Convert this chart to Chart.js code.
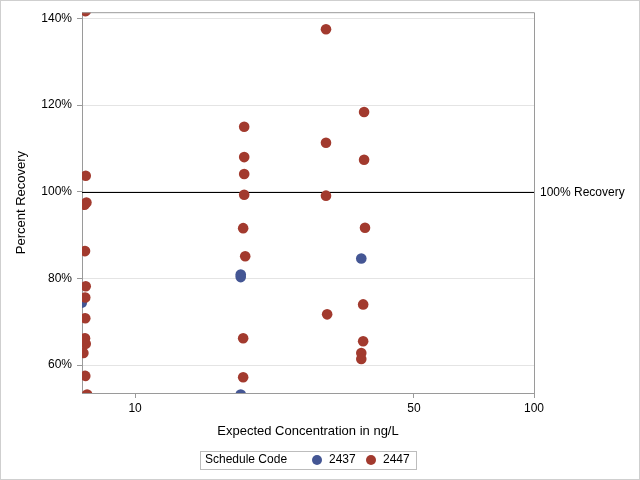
<!DOCTYPE html>
<html>
<head>
<meta charset="utf-8">
<script src="https://cdn.jsdelivr.net/npm/chart.js@4.4.0/dist/chart.umd.min.js"></script>
<style>
  html, body { margin: 0; padding: 0; background: #fff; }
</style>
</head>
<body>
<canvas id="chart" width="640" height="480"></canvas>
<script>
// values
var xTicks = [10, 50, 100];
var yTicks = [60, 80, 100, 120, 140];
var seriesNames = ['2437', '2447'];
var seriesColors = ['#445694', '#A23A2E'];

var conc2437 = [7.35, 18.4, 18.4, 18.4, 36.9];
var rec2437  = [74.4, 80.9, 80.3, 53.2, 84.6];

var conc2447 = [7.52, 7.52, 7.55, 7.47, 7.49, 7.52, 7.50, 7.50, 7.49, 7.52, 7.42, 7.50, 7.58,
                18.77, 18.77, 18.77, 18.77, 18.66, 18.88, 18.66, 18.66,
                30.1, 30.1, 30.1, 30.3,
                37.5, 37.5, 37.7, 37.3, 37.3, 36.9, 36.9];
var rec2447  = [141.7, 103.7, 97.5, 97.0, 86.3, 78.2, 75.6, 70.8, 66.2, 64.9, 62.8, 57.5, 53.2,
                115.0, 108.0, 104.1, 99.3, 91.6, 85.1, 66.2, 57.2,
                137.5, 111.3, 99.1, 71.7,
                118.4, 107.4, 91.7, 74.0, 65.5, 62.8, 61.4];

var refValue = 100;
var refLabel = '100% Recovery';
var xTitle = 'Expected Concentration in ng/L';
var yTitle = 'Percent Recovery';
var legendTitle = 'Schedule Code';

Chart.defaults.font.family = '"Liberation Sans", Arial, sans-serif';
Chart.defaults.font.size = 12;
Chart.defaults.color = '#000';

function toPoints(xs, ys) {
    return xs.map(function (x, i) { return { x: x, y: ys[i] }; });
}

var axisGray = '#9a9a9a';

// frame, reference line, custom inline legend
var decorPlugin = {
    id: 'decor',
    beforeDraw: function (chart) {
        var ctx = chart.ctx;
        ctx.save();
        ctx.fillStyle = '#fff';
        ctx.fillRect(0, 0, chart.width, chart.height);
        ctx.restore();
    },
    beforeDatasetsDraw: function (chart) {
        var ctx = chart.ctx, a = chart.chartArea;
        var y = Math.round(chart.scales.y.getPixelForValue(refValue)) + 0.5;
        ctx.save();
        ctx.strokeStyle = '#000';
        ctx.lineWidth = 1;
        ctx.beginPath();
        ctx.moveTo(a.left, y);
        ctx.lineTo(a.right, y);
        ctx.stroke();
        ctx.font = '12px "Liberation Sans", Arial, sans-serif';
        ctx.fillStyle = '#000';
        ctx.textBaseline = 'middle';
        ctx.fillText(refLabel, a.right + 6, y);
        ctx.restore();
    },
    afterDraw: function (chart) {
        var ctx = chart.ctx, a = chart.chartArea;
        ctx.save();
        // top and right frame
        ctx.strokeStyle = axisGray;
        ctx.lineWidth = 1;
        ctx.beginPath();
        ctx.moveTo(a.left, a.top + 0.5);
        ctx.lineTo(a.right + 0.5, a.top + 0.5);
        ctx.lineTo(a.right + 0.5, a.bottom);
        ctx.stroke();
        // outer border
        ctx.strokeStyle = '#cfcfcf';
        ctx.strokeRect(0.5, 0.5, chart.width - 1, chart.height - 1);
        // legend
        var lx = 200, ly = 451, lw = 216, lh = 18, cy = ly + lh / 2;
        ctx.strokeStyle = '#bdbdbd';
        ctx.strokeRect(lx + 0.5, ly + 0.5, lw, lh);
        ctx.font = '12px "Liberation Sans", Arial, sans-serif';
        ctx.fillStyle = '#000';
        ctx.textBaseline = 'middle';
        ctx.fillText(legendTitle, lx + 5, cy);
        var items = [{ cx: 317, tx: 329 }, { cx: 371, tx: 383 }];
        items.forEach(function (it, i) {
            ctx.fillStyle = seriesColors[i];
            ctx.beginPath();
            ctx.arc(it.cx, cy, 5, 0, Math.PI * 2);
            ctx.fill();
            ctx.fillStyle = '#000';
            ctx.fillText(seriesNames[i], it.tx, cy);
        });
        ctx.restore();
    }
};

new Chart(document.getElementById('chart'), {
    type: 'scatter',
    data: {
        datasets: [
            { label: seriesNames[0], data: toPoints(conc2437, rec2437), backgroundColor: seriesColors[0],
              pointRadius: 5.3, borderWidth: 0, order: 1, clip: 0 },
            { label: seriesNames[1], data: toPoints(conc2447, rec2447), backgroundColor: seriesColors[1],
              pointRadius: 5.3, borderWidth: 0, order: 0, clip: 0 }
        ]
    },
    options: {
        responsive: false,
        devicePixelRatio: 1,
        animation: false,
        events: [],
        layout: { padding: { left: 0, right: 106, top: 11, bottom: 0 } },
        plugins: { legend: { display: false }, tooltip: { enabled: false } },
        scales: {
            x: {
                type: 'logarithmic',
                position: 'bottom',
                min: 7.36,
                max: 100,
                afterBuildTicks: function (s) { s.ticks = xTicks.map(function (v) { return { value: v }; }); },
                afterFit: function (s) { s.height = 87; },
                ticks: { callback: function (v) { return String(v); }, maxRotation: 0, autoSkip: false, padding: 3 },
                grid: { drawOnChartArea: false, tickLength: 5, tickColor: axisGray },
                border: { color: axisGray },
                title: { display: true, text: xTitle, font: { size: 13 }, padding: { top: 0, bottom: 41 } }
            },
            y: {
                type: 'linear',
                position: 'left',
                min: 53.55,
                max: 141.45,
                afterBuildTicks: function (s) { s.ticks = yTicks.map(function (v) { return { value: v }; }); },
                afterFit: function (s) { s.width = 82; },
                ticks: { callback: function (v) { return v + '%'; }, padding: 5 },
                grid: { color: '#e4e4e4', tickLength: 5, tickColor: axisGray },
                border: { color: axisGray },
                title: { display: true, text: yTitle, font: { size: 13 }, padding: { top: 14, bottom: 0 } }
            }
        }
    },
    plugins: [decorPlugin]
});
</script>
</body>
</html>
